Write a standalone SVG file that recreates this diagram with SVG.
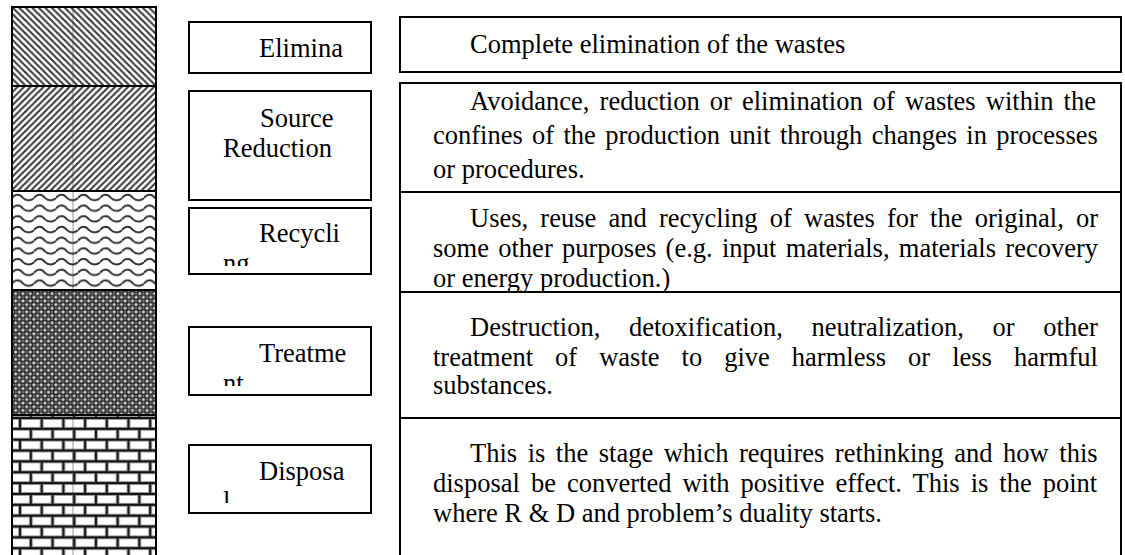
<svg xmlns="http://www.w3.org/2000/svg" width="1125" height="555" viewBox="0 0 1125 555">
<style>
  .box { fill: #ffffff; stroke: #000000; stroke-width: 2; }
  .desc { fill: none; stroke: #000000; stroke-width: 2; }
  .t { font-family: "Liberation Serif", "Times New Roman", serif; font-size: 26.5px; fill: #000000; }
  .sep { stroke: #000000; stroke-width: 2; }
</style>
<defs>
  <pattern id="pDown" patternUnits="userSpaceOnUse" x="12" y="7" width="6.5" height="6.5">
    <rect width="6.5" height="6.5" fill="#ffffff"/>
    <path d="M-1,-1 L7.5,7.5 M-1,5.5 L1,7.5 M5.5,-1 L7.5,1" stroke="#3a3a3a" stroke-width="2.1"/>
  </pattern>
  <pattern id="pUp" patternUnits="userSpaceOnUse" x="12" y="86" width="6.5" height="6.5">
    <rect width="6.5" height="6.5" fill="#ffffff"/>
    <path d="M-1,7.5 L7.5,-1 M-1,1 L1,-1 M5.5,7.5 L7.5,5.5" stroke="#3a3a3a" stroke-width="2.1"/>
  </pattern>
  <pattern id="pWave" patternUnits="userSpaceOnUse" x="12" y="192" width="22" height="10.7">
    <rect width="22" height="10.7" fill="#ffffff"/>
    <path d="M0,6 C3,1.5 8,1.5 11,6 C14,9 19,9 22,6" fill="none" stroke="#2e2e2e" stroke-width="1.9"/>
  </pattern>
  <pattern id="pDiamond" patternUnits="userSpaceOnUse" x="12" y="290" width="7.3" height="7.3">
    <rect width="7.3" height="7.3" fill="#2a2a2a"/>
    <circle cx="0" cy="0" r="1.6" fill="#cfcfcf"/>
    <circle cx="7.3" cy="0" r="1.6" fill="#cfcfcf"/>
    <circle cx="0" cy="7.3" r="1.6" fill="#cfcfcf"/>
    <circle cx="7.3" cy="7.3" r="1.6" fill="#cfcfcf"/>
    <circle cx="3.65" cy="3.65" r="1.6" fill="#cfcfcf"/>
    <circle cx="3.65" cy="0" r="1" fill="#8a8a8a"/>
    <circle cx="0" cy="3.65" r="1" fill="#8a8a8a"/>
    <circle cx="7.3" cy="3.65" r="1" fill="#8a8a8a"/>
    <circle cx="3.65" cy="7.3" r="1" fill="#8a8a8a"/>
  </pattern>
  <pattern id="pBrick" patternUnits="userSpaceOnUse" x="20" y="418" width="21.7" height="21.7">
    <rect width="21.7" height="21.7" fill="#ffffff"/>
    <path d="M0,0 H21.7 M0,10.85 H21.7 M0,21.7 H21.7 M0,0 V10.85 M21.7,0 V10.85 M10.85,10.85 V21.7" stroke="#9a9a9a" stroke-width="4"/>
    <path d="M0,0 H21.7 M0,10.85 H21.7 M0,21.7 H21.7 M0,0 V10.85 M21.7,0 V10.85 M10.85,10.85 V21.7" stroke="#111111" stroke-width="1.8"/>
  </pattern>
  <clipPath id="cRec"><rect x="190" y="209" width="180" height="57"/></clipPath>
  <clipPath id="cTre"><rect x="190" y="328" width="180" height="58"/></clipPath>
  <clipPath id="cDis"><rect x="190" y="446" width="180" height="57"/></clipPath>
</defs>

<rect width="1125" height="555" fill="#ffffff"/>

<g id="hierarchy-bar">
  <rect x="12" y="7" width="144" height="79" fill="url(#pDown)"/>
  <rect x="12" y="86" width="144" height="105" fill="url(#pUp)"/>
  <rect x="12" y="191" width="144" height="99" fill="url(#pWave)"/>
  <rect x="12" y="290" width="144" height="125" fill="url(#pDiamond)"/>
  <rect x="12" y="415" width="144" height="145" fill="url(#pBrick)"/>
  <line x1="73" y1="7" x2="73" y2="555" stroke="#333333" stroke-width="1" opacity="0.5"/>
  <line class="sep" x1="12" y1="86" x2="156" y2="86"/>
  <line class="sep" x1="12" y1="191" x2="156" y2="191"/>
  <line class="sep" x1="12" y1="290" x2="156" y2="290"/>
  <line class="sep" x1="12" y1="415" x2="156" y2="415"/>
  <path d="M12,560 V7 H156 V560" fill="none" stroke="#000000" stroke-width="2"/>
</g>

<g id="connectors"/>

<g id="label-elimination">
  <rect class="box" x="189" y="22" width="182" height="51"/>
  <text class="t" x="259" y="57">Elimina</text>
</g>
<g id="label-source-reduction">
  <rect class="box" x="189" y="91" width="182" height="109"/>
  <text class="t" x="260" y="127">Source</text>
  <text class="t" x="223" y="157">Reduction</text>
</g>
<g id="label-recycling">
  <rect class="box" x="189" y="208" width="182" height="66"/>
  <text class="t" x="259" y="242">Recycli</text>
  <text class="t" x="223" y="272" clip-path="url(#cRec)">ng</text>
</g>
<g id="label-treatment">
  <rect class="box" x="189" y="327" width="182" height="68"/>
  <text class="t" x="259" y="362">Treatme</text>
  <text class="t" x="223" y="392" clip-path="url(#cTre)">nt</text>
</g>
<g id="label-disposal">
  <rect class="box" x="189" y="445" width="182" height="68"/>
  <text class="t" x="259" y="480">Disposa</text>
  <text class="t" x="223" y="510" clip-path="url(#cDis)">l</text>
</g>

<g id="desc-elimination">
  <rect class="desc" x="400" y="17" width="721" height="55"/>
  <text class="t" x="470" y="53">Complete elimination of the wastes</text>
</g>
<g id="desc-source-reduction">
  <rect class="desc" x="400" y="83" width="721" height="109"/>
  <text class="t" x="470" y="110" style="word-spacing:3.5px">Avoidance, reduction or elimination of wastes within the</text>
  <text class="t" x="433" y="144" style="word-spacing:2.7px">confines of the production unit through changes in processes</text>
  <text class="t" x="433" y="178">or procedures.</text>
</g>
<g id="desc-recycling">
  <rect class="desc" x="400" y="192" width="721" height="100"/>
  <text class="t" x="470" y="227" style="word-spacing:5.6px">Uses, reuse and recycling of wastes for the original, or</text>
  <text class="t" x="433" y="257" style="word-spacing:2.7px">some other purposes (e.g. input materials, materials recovery</text>
  <text class="t" x="433" y="287">or energy production.)</text>
</g>
<g id="desc-treatment">
  <rect class="desc" x="400" y="292" width="721" height="126"/>
  <text class="t" x="470" y="336" style="word-spacing:22.1px">Destruction, detoxification, neutralization, or other</text>
  <text class="t" x="433" y="366" style="word-spacing:15.4px">treatment of waste to give harmless or less harmful</text>
  <text class="t" x="433" y="394">substances.</text>
</g>
<g id="desc-disposal">
  <path class="desc" d="M400,560 V418 H1121 V560"/>
  <text class="t" x="470" y="462" style="word-spacing:3.9px">This is the stage which requires rethinking and how this</text>
  <text class="t" x="433" y="492" style="word-spacing:4.4px">disposal be converted with positive effect. This is the point</text>
  <text class="t" x="433" y="522">where R &amp; D and problem’s duality starts.</text>
</g>
</svg>
